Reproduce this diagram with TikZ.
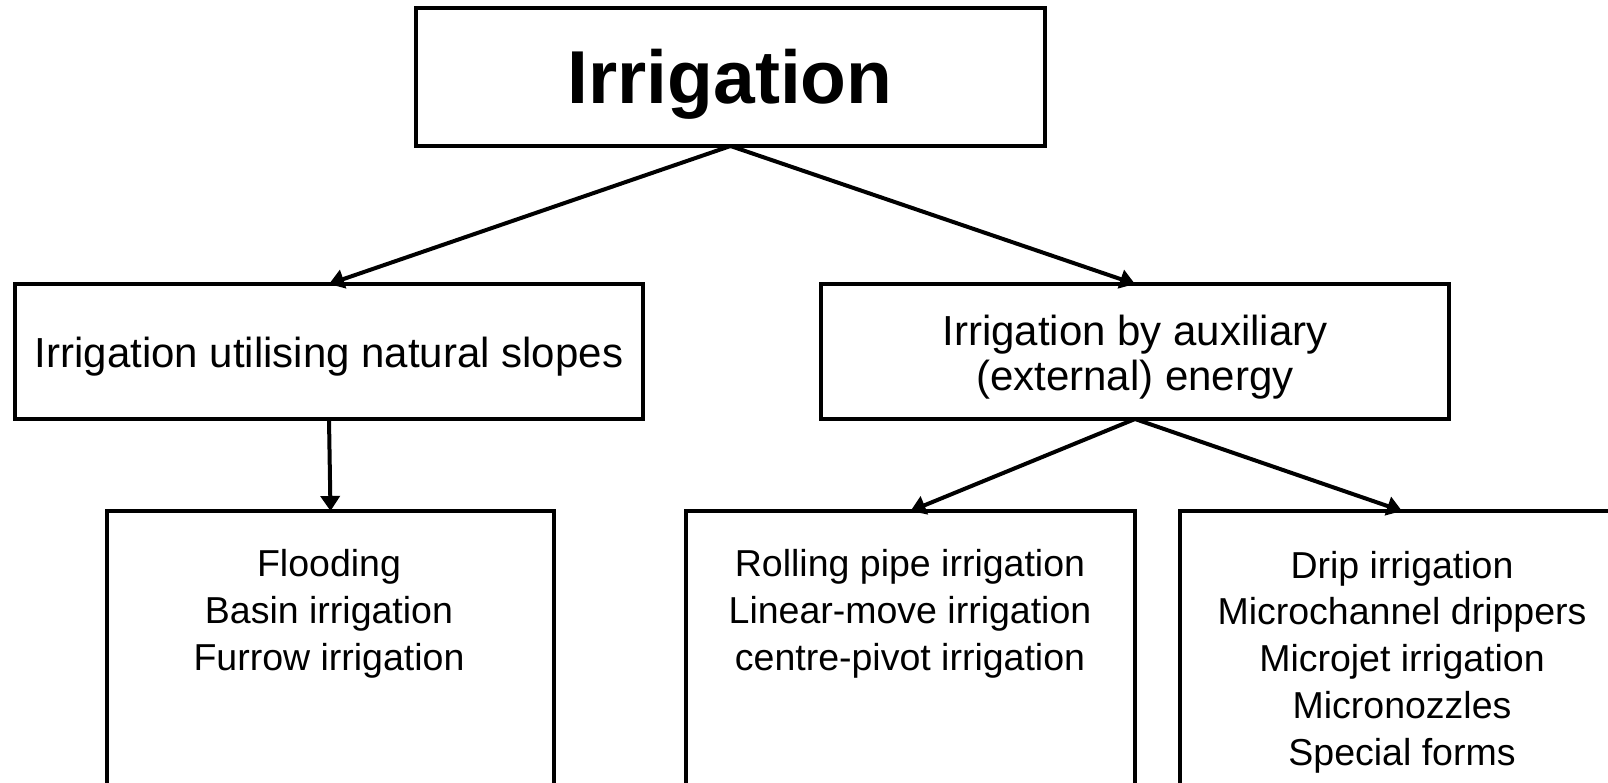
\documentclass[tikz,border=0pt]{standalone}
\usepackage{fontspec}
\setmainfont{Liberation Sans}
\usetikzlibrary{arrows.meta}
\tikzset{
  box/.style={draw=black, line width=4pt, fill=white, inner sep=0pt, outer sep=0pt, rectangle},
  arr/.style={line width=4pt, -{Triangle[length=15pt,width=19pt]}},
  lvltwo/.style={font=\fontsize{42}{45}\selectfont, align=center, anchor=base, inner sep=0pt},
  lvlthree/.style={font=\fontsize{37.5}{46.7}\selectfont, align=center, anchor=base, inner sep=0pt},
}
\begin{document}
\begin{tikzpicture}[x=1pt,y=-1pt]
\clip (0,0) rectangle (1608,782);
\fill[white] (0,0) rectangle (1608,782);
% boxes
\node[box, minimum width=629pt, minimum height=138pt] (top) at (730.5,77) {};
\node[box, minimum width=628pt, minimum height=135pt] (l1) at (329,351.5) {};
\node[box, minimum width=628pt, minimum height=135pt] (r1) at (1135,351.5) {};
\node[box, minimum width=447pt, minimum height=289pt] (b1) at (330.5,655.5) {};
\node[box, minimum width=449pt, minimum height=289pt] (b2) at (910.5,655.5) {};
\node[box, minimum width=444pt, minimum height=289pt] (b3) at (1402,655.5) {};
% texts (base anchor = baseline of last line)
\node[font=\fontsize{75}{80}\selectfont\bfseries, anchor=base, inner sep=0pt] (ttop) at (730,103) {Irrigation};
\node[lvltwo] (tl1) at (329,367) {Irrigation utilising natural slopes};
\node[lvltwo] (tr1) at (1135,390) {Irrigation by auxiliary\\(external) energy};
\node[lvlthree] (tb1) at (329,670) {Flooding\\Basin irrigation\\Furrow irrigation};
\node[lvlthree] (tb2) at (910,670) {Rolling pipe irrigation\\Linear-move irrigation\\centre-pivot irrigation};
\node[lvlthree] (tb3) at (1402,765) {Drip irrigation\\Microchannel drippers\\Microjet irrigation\\Micronozzles\\Special forms};
% connectors
\draw[arr] (top.south) -- (l1.north);
\draw[arr] (top.south) -- (r1.north);
\draw[arr] (l1.south) -- (b1.north);
\draw[arr] (r1.south) -- (b2.north);
\draw[arr] (r1.south) -- (b3.north);
\end{tikzpicture}
\end{document}
